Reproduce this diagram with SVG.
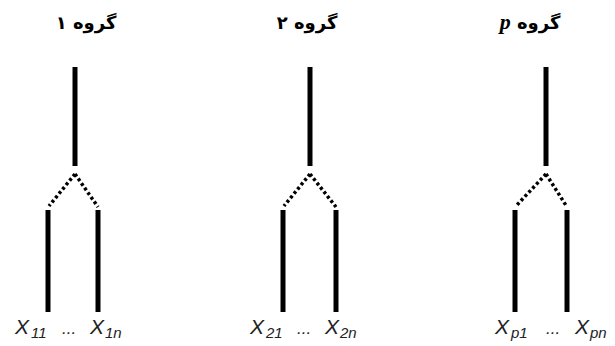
<svg xmlns="http://www.w3.org/2000/svg" width="615" height="346" viewBox="0 0 615 346">
<style>
.title{font-family:"DejaVu Sans","Noto Sans",sans-serif;font-weight:bold;font-size:18px;fill:#000}
.pvar{font-family:"Liberation Serif",serif;font-style:italic;font-weight:bold;font-size:22px}
.bar{stroke:#000;stroke-width:5;fill:none}
.dot{stroke:#000;stroke-width:3.5;fill:none;stroke-dasharray:3 2.6}
.lbl{font-family:"Liberation Sans",Arial,sans-serif;font-style:italic;font-size:21px;fill:#222}
.sub{font-size:15px}
.dots{font-size:17px}
</style>
<rect width="615" height="346" fill="#fff"/>
<g id="group1">
  <text class="title" x="86" y="29" text-anchor="middle" direction="rtl">گروه ۱</text>
  <line class="bar" x1="75" y1="67" x2="75" y2="166"/>
  <line class="bar" x1="48" y1="210" x2="48" y2="312"/>
  <line class="bar" x1="98" y1="210" x2="98" y2="312"/>
  <text class="lbl" y="334"><tspan x="15">X</tspan><tspan class="sub" x="31" y="338">11</tspan><tspan class="dots" x="62" y="334">...</tspan><tspan x="90">X</tspan><tspan class="sub" x="105" y="338">1n</tspan></text>
</g>
<g id="group2">
  <text class="title" x="307" y="29" text-anchor="middle" direction="rtl">گروه ۲</text>
  <line class="bar" x1="310" y1="67" x2="310" y2="166"/>
  <line class="bar" x1="283" y1="210" x2="283" y2="312"/>
  <line class="bar" x1="336" y1="210" x2="336" y2="312"/>
  <text class="lbl" y="334"><tspan x="250">X</tspan><tspan class="sub" x="266" y="338">21</tspan><tspan class="dots" x="297" y="334">...</tspan><tspan x="325">X</tspan><tspan class="sub" x="340" y="338">2n</tspan></text>
</g>
<g id="groupp">
  <text class="title" x="530" y="29" text-anchor="middle" direction="rtl">گروه <tspan class="pvar">p</tspan></text>
  <line class="bar" x1="546" y1="67" x2="546" y2="166"/>
  <line class="bar" x1="515" y1="210" x2="515" y2="312"/>
  <line class="bar" x1="567" y1="210" x2="567" y2="312"/>
  <text class="lbl" y="334"><tspan x="495">X</tspan><tspan class="sub" x="511" y="338">p1</tspan><tspan class="dots" x="546" y="334">...</tspan><tspan x="575">X</tspan><tspan class="sub" x="590" y="338">pn</tspan></text>
</g>
<g id="connectors">
  <line class="dot" x1="75" y1="174" x2="49" y2="206"/>
  <line class="dot" x1="75" y1="174" x2="98" y2="207"/>
  <line class="dot" x1="310" y1="174" x2="284" y2="206"/>
  <line class="dot" x1="310" y1="174" x2="336" y2="207"/>
  <line class="dot" x1="546" y1="174" x2="516" y2="206"/>
  <line class="dot" x1="546" y1="174" x2="567" y2="207"/>
</g>
</svg>
